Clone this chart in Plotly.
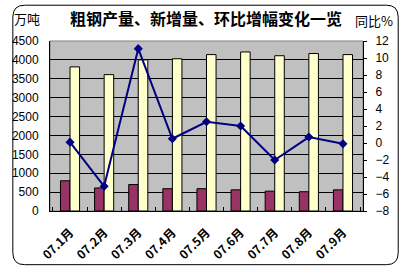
import plotly.graph_objects as go

months = ["07.1月", "07.2月", "07.3月", "07.4月", "07.5月", "07.6月", "07.7月", "07.8月", "07.9月"]
new_added = [800, 610, 700, 590, 590, 560, 525, 510, 560]
crude_steel = [3815, 3610, 4000, 4030, 4140, 4210, 4110, 4170, 4140]
mom_pct = [0.1, -5.1, 11.1, 0.5, 2.5, 2.0, -2.0, 0.7, -0.1]

W, H = 405, 274
L, R, T, B = 43, 42, 41, 62
pw, ph = W - L - R, H - T - B

def px(x):
    return (x - L) / pw

def py(y):
    return (H - B - y) / ph

fig = go.Figure()
fig.add_trace(go.Bar(x=months, y=new_added, marker=dict(color="#993366", line=dict(color="black", width=1)), name="新增量"))
fig.add_trace(go.Bar(x=months, y=crude_steel, marker=dict(color="#FFFFCC", line=dict(color="black", width=1)), name="粗钢产量"))
fig.add_trace(go.Scatter(x=months, y=mom_pct, yaxis="y2", mode="lines+markers",
                         line=dict(color="#000080", width=2),
                         marker=dict(symbol="diamond", size=7, color="#000080"), name="环比"))

# rounded outer border
x0, y0, x1, y1, r = 5, 5, 399, 266, 12
path = (f"M {px(x0+r)},{py(y0)} L {px(x1-r)},{py(y0)} Q {px(x1)},{py(y0)} {px(x1)},{py(y0+r)} "
        f"L {px(x1)},{py(y1-r)} Q {px(x1)},{py(y1)} {px(x1-r)},{py(y1)} "
        f"L {px(x0+r)},{py(y1)} Q {px(x0)},{py(y1)} {px(x0)},{py(y1-r)} "
        f"L {px(x0)},{py(y0+r)} Q {px(x0)},{py(y0)} {px(x0+r)},{py(y0)} Z")

fig.update_layout(
    width=W, height=H,
    margin=dict(l=L, r=R, t=T, b=B),
    paper_bgcolor="white", plot_bgcolor="#C0C0C0",
    showlegend=False,
    bargap=0.44, bargroupgap=0,
    font=dict(family="Liberation Sans, DejaVu Sans, sans-serif", size=12, color="black"),
    xaxis=dict(type="category", showline=True, linecolor="black", linewidth=1,
               ticks="inside", tickson="boundaries", ticklen=4, tickcolor="black",
               tickangle=-45, ticklabelstandoff=9,
               tickfont=dict(size=12, family="Noto Sans CJK SC", weight="bold"),
               showgrid=False, fixedrange=True),
    yaxis=dict(range=[0, 4500], dtick=500, showline=True, linecolor="black", linewidth=1,
               showgrid=True, gridcolor="black", gridwidth=1, zeroline=False,
               ticks="", ticklabelstandoff=8, tickfont=dict(size=12)),
    yaxis2=dict(range=[-8, 12], dtick=2, overlaying="y", side="right",
                showline=True, linecolor="black", linewidth=1, showgrid=False, zeroline=False,
                ticks="outside", ticklen=3, tickcolor="black", ticklabelstandoff=6,
                tickfont=dict(size=12)),
    shapes=[
        dict(type="rect", xref="paper", yref="paper", x0=0, y0=0, x1=1, y1=1,
             line=dict(color="#808080", width=1), layer="below"),
        dict(type="path", xref="paper", yref="paper", path=path,
             line=dict(color="black", width=1)),
    ],
    annotations=[
        dict(text="粗钢产量、新增量、环比增幅变化一览", xref="paper", yref="paper",
             x=px(202), y=py(18), xanchor="center", yanchor="middle", showarrow=False,
             font=dict(size=16, family="Noto Sans CJK SC", weight="bold")),
        dict(text="万吨", xref="paper", yref="paper", x=px(4), y=py(18),
             xanchor="left", yanchor="middle", showarrow=False,
             font=dict(size=13, family="Noto Sans CJK SC")),
        dict(text="同比%", xref="paper", yref="paper", x=px(396), y=py(20),
             xanchor="right", yanchor="middle", showarrow=False,
             font=dict(size=13, family="Noto Sans CJK SC")),
    ],
)

fig.write_html("out.html")
